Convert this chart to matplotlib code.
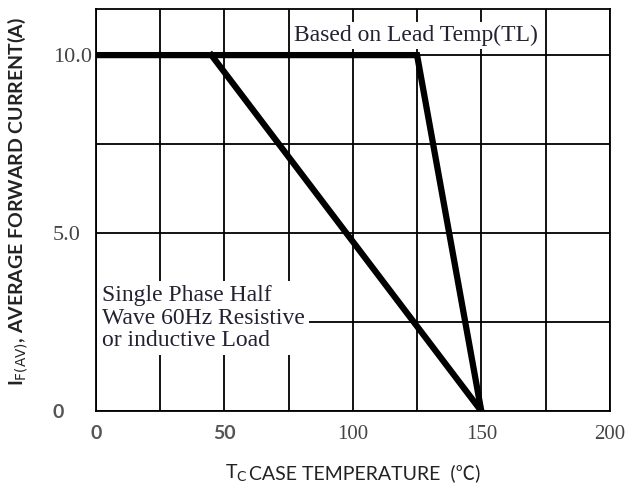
import matplotlib
matplotlib.use("Agg")
import matplotlib.pyplot as plt
from matplotlib.ticker import MultipleLocator

# derating curves
lead_x = [0, 125, 150]
lead_y = [10.0, 10.0, 0]
res_x = [45, 150]
res_y = [10.0, 0]

xticks = [0, 50, 100, 150, 200]
xtick_labels = ['0', '50', '100', '150', '200']
yticks = [0, 5, 10]
ytick_labels = ['0', '5.0', '10.0']

serif = ['Liberation Serif', 'DejaVu Serif']
sans = ['Lato', 'Noto Sans CJK SC', 'DejaVu Sans']

fig = plt.figure(figsize=(6.3, 4.9), dpi=100)
ax = fig.add_axes([0.152, 0.161, 0.816, 0.821])

ax.set_xlim(0, 200)
ax.set_ylim(0, 11.3)
ax.xaxis.set_minor_locator(MultipleLocator(25))
ax.yaxis.set_minor_locator(MultipleLocator(2.5))
ax.set_xticks(xticks)
ax.set_xticklabels(xtick_labels)
ax.set_yticks(yticks)
ax.set_yticklabels(ytick_labels)
ax.grid(which='both', color='black', linewidth=1.3, zorder=0)
ax.set_axisbelow(True)
ax.tick_params(which='both', length=0)
ax.tick_params(axis='x', pad=10)
ax.tick_params(axis='y', pad=31)
for s in ax.spines.values():
    s.set_linewidth(1.3)

for lab in ax.get_xticklabels():
    if lab.get_text() in ('0', '50'):
        lab.set_fontfamily(sans)
        lab.set_fontweight('bold')
        lab.set_fontsize(14)
        lab.set_color('#555555')
    else:
        lab.set_fontfamily(serif)
        lab.set_fontsize(15)
        lab.set_color('#444444')
for lab in ax.get_yticklabels():
    lab.set_horizontalalignment('left')
    if lab.get_text() == '0':
        lab.set_fontfamily(sans)
        lab.set_fontweight('bold')
        lab.set_fontsize(14)
        lab.set_color('#555555')
    else:
        lab.set_fontfamily(serif)
        lab.set_fontsize(16)
        lab.set_color('#444444')

ax.plot(lead_x, lead_y, color='black', linewidth=4.5, solid_joinstyle='miter', zorder=5)
ax.plot(res_x, res_y, color='black', linewidth=4.5, zorder=5)

ax.text(77, 10.56, 'Based on Lead Temp(TL)', fontfamily=serif, fontsize=17,
        color='#222233', ha='left', va='center', zorder=3,
        bbox=dict(facecolor='white', edgecolor='none', pad=2))
ax.text(2.3, 2.61, 'Single Phase Half\nWave 60Hz Resistive\nor inductive Load',
        fontfamily=serif, fontsize=17, color='#222233', ha='left', va='center',
        linespacing=1.08, zorder=3,
        bbox=dict(facecolor='white', edgecolor='none', pad=3))

fig.text(0.028, 0.588, r'I$_{\mathrm{F(AV)}}$, AVERAGE FORWARD CURRENT(A)',
         rotation=90, ha='center', va='center', fontfamily=sans,
         fontweight='bold', fontsize=14, color='#222222')

fig.text(0.396, 0.035, 'CASE TEMPERATURE  (℃)', ha='left', va='center',
         fontfamily=sans, fontsize=14, color='#222222')
fig.text(0.392, 0.035, r'T$_{\mathrm{C}}$', ha='right', va='center',
         fontfamily=sans, fontsize=14, color='#222222')

fig.savefig('out.png', dpi=100)
